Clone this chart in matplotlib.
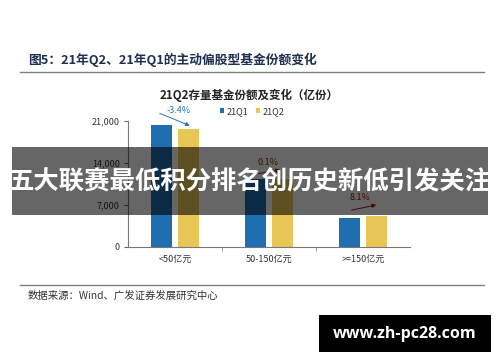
import matplotlib
matplotlib.use("Agg")
import matplotlib.pyplot as plt
from matplotlib.patches import Rectangle, FancyArrowPatch
import numpy as np

plt.rcParams['font.family'] = ['Noto Sans CJK SC', 'DejaVu Sans']

categories = ["<50亿元", "50-150亿元", ">=150亿元"]
q1_values = [20300, 11300, 4745]
q2_values = [19610, 11310, 5130]
changes = ["-3.4%", "0.1%", "8.1%"]
change_colors = ["#2E75B6", "#A01818", "#A01818"]
yticks = [0, 7000, 14000, 21000]
ytick_labels = ["0", "7,000", "14,000", "21,000"]

W, H = 500, 362
fig = plt.figure(figsize=(W / 100, H / 100), dpi=100)
fig.patch.set_facecolor("white")

def fx(px):
    return px / W

def fy(py):
    return 1 - py / H

# Figure header and footer
fig.text(fx(28), fy(60), "图5：21年Q2、21年Q1的主动偏股型基金份额变化",
         fontsize=9.2, fontweight="bold", color="#1F3050", va="center", ha="left")
fig.add_artist(plt.Line2D([fx(20), fx(484)], [fy(72), fy(72)], color="#808080", lw=1.0))
fig.add_artist(plt.Line2D([fx(20), fx(484)], [fy(285), fy(285)], color="#808080", lw=1.0))
fig.text(fx(28), fy(296), "数据来源：Wind、广发证券发展研究中心",
         fontsize=7.5, color="#333333", va="center", ha="left")

# Chart title
fig.text(fx(249), fy(95), "21Q2存量基金份额及变化（亿份）",
         fontsize=8.3, fontweight="bold", color="#222222", va="center", ha="center")

ax = fig.add_axes([fx(128), fy(246.7), fx(410 - 128), (246.7 - 121) / H])
x = np.arange(len(categories))
bw = 0.225
off = 0.145
ax.bar(x - off, q1_values, bw, color="#1F6FB0", label="21Q1")
ax.bar(x + off, q2_values, bw, color="#E8C757", label="21Q2")
ax.set_xlim(-0.5, 2.5)
ax.set_ylim(0, 21000)
ax.set_yticks(yticks)
ax.set_yticklabels(ytick_labels, fontsize=6.5, color="#333333")
ax.set_xticks(x)
ax.set_xticklabels(categories, fontsize=6.5, color="#333333")
ax.tick_params(axis="x", length=0, pad=6)
ax.tick_params(axis="y", length=3, direction="out", color="#666666", pad=3)
for s in ["top", "right"]:
    ax.spines[s].set_visible(False)
for s in ["left", "bottom"]:
    ax.spines[s].set_color("#777777")
    ax.spines[s].set_linewidth(0.8)
ax.set_xticks([0.5, 1.5], minor=True)
ax.tick_params(axis="x", which="minor", length=3, direction="out", color="#888888")

# Change arrows and labels: (start, end, label position) in data units
arrow_starts = [(-0.19, 22450), (0.86, 12150), (1.85, 6015)]
arrow_ends = [(0.185, 20050), (1.15, 12900), (2.17, 7080)]
label_pos = [(0.035, 22750), (0.99, 14100), (1.97, 8140)]
for lbl, col, s, e, p in zip(changes, change_colors, arrow_starts, arrow_ends, label_pos):
    arr = FancyArrowPatch(s, e, arrowstyle="-|>", mutation_scale=6,
                          color=col, lw=0.7, clip_on=False)
    ax.add_patch(arr)
    ax.text(p[0], p[1], lbl, fontsize=6.5, color=col, ha="center", va="center", clip_on=False)

# Legend
leg = ax.legend(loc="upper left", bbox_to_anchor=((216 - 128) / (410 - 128), 1.14),
                ncol=2, frameon=False, fontsize=6.5, handlelength=0.5, handleheight=0.5,
                handletextpad=0.3, columnspacing=0.8, borderaxespad=0)
for t in leg.get_texts():
    t.set_color("#333333")

# Banner overlay
fig.add_artist(Rectangle((fx(12), fy(215)), fx(488 - 12), (215 - 147) / H,
                         transform=fig.transFigure, facecolor="black", alpha=0.6,
                         edgecolor="none", zorder=10))
fig.text(fx(250), fy(182), "五大联赛最低积分排名创历史新低引发关注",
         fontsize=18.3, fontweight="bold", color="white", ha="center", va="center", zorder=11)

# Site mark
fig.add_artist(Rectangle((fx(319), fy(352)), fx(491 - 319), (352 - 315) / H,
                         transform=fig.transFigure, facecolor="black",
                         edgecolor="none", zorder=10))
fig.text(fx(405), fy(333.5), "www.zh-pc28.com", fontsize=11.5, fontweight="bold",
         color="white", ha="center", va="center", zorder=11,
         family=["Open Sans", "DejaVu Sans"])

fig.savefig("out.png", dpi=100)
